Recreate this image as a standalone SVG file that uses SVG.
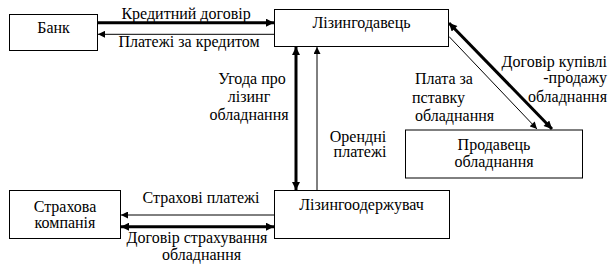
<svg xmlns="http://www.w3.org/2000/svg" width="615" height="272" viewBox="0 0 615 272">
<defs>
<style>
.box{fill:#fff;stroke:#000;stroke-width:1}
text{font-family:'Liberation Serif',serif;font-size:16px;fill:#000}
.c{text-anchor:middle}
.r{text-anchor:end}
.thick{stroke:#000;stroke-width:3;fill:none}
.thin{stroke:#000;stroke-width:1;fill:none}
</style>
<marker id="ah" viewBox="0 0 10 10" refX="10" refY="5" markerWidth="9" markerHeight="8" markerUnits="userSpaceOnUse" orient="auto-start-reverse">
<path d="M0,0 L10,5 L0,10 z" fill="#000"/>
</marker>
<marker id="at" viewBox="0 0 10 10" refX="10" refY="5" markerWidth="8" markerHeight="7" markerUnits="userSpaceOnUse" orient="auto-start-reverse">
<path d="M0,0 L10,5 L0,10 z" fill="#000"/>
</marker>
</defs>
<rect width="615" height="272" fill="#fff"/>
<g id="connectors">
<line class="thick" x1="98" y1="22.7" x2="274" y2="22.7" marker-end="url(#ah)"/>
<line class="thin" x1="274" y1="34.3" x2="98" y2="34.3" marker-end="url(#at)"/>
<line class="thick" x1="296" y1="47" x2="296" y2="190" marker-start="url(#ah)" marker-end="url(#ah)"/>
<line class="thin" x1="317" y1="190" x2="317" y2="47" marker-end="url(#at)"/>
<line class="thick" x1="449" y1="23" x2="552" y2="129" marker-start="url(#ah)" marker-end="url(#ah)"/>
<line class="thin" x1="449" y1="36.5" x2="537" y2="129" marker-end="url(#at)"/>
<line class="thin" x1="274" y1="215" x2="121" y2="215" marker-end="url(#at)"/>
<line class="thick" x1="121" y1="226.7" x2="274" y2="226.7" marker-start="url(#ah)" marker-end="url(#ah)"/>
<text class="c" x="186" y="19">Кредитний договір</text>
<text class="c" x="189" y="47">Платежі за кредитом</text>
<text class="c" x="252" y="84">Угода про</text>
<text class="c" x="249" y="102">лізинг</text>
<text class="c" x="249" y="120">обладнання</text>
<text class="c" x="358" y="141.5">Орендні</text>
<text class="c" x="360" y="157">платежі</text>
<text class="r" x="607" y="66.5">Договір купівлі</text>
<text class="r" x="607" y="83.3">-продажу</text>
<text class="r" x="607" y="101.5">обладнання</text>
<text x="415" y="84">Плата за</text>
<text x="412" y="102.5">пставку</text>
<text x="415" y="120.5">обладнання</text>
<text class="c" x="201" y="203">Страхові платежі</text>
<text class="c" x="197" y="243">Договір страхування</text>
<text class="c" x="201.5" y="260">обладнання</text>
</g>
<g id="bank"><rect class="box" x="9.5" y="14.5" width="88" height="36"/><text class="c" x="53.5" y="33">Банк</text></g>
<g id="lessor"><rect class="box" x="274.5" y="9.5" width="174" height="37"/><text class="c" x="361.5" y="28">Лізингодавець</text></g>
<g id="seller"><rect class="box" x="405.5" y="130" width="177" height="48"/><text class="c" x="494" y="150">Продавець</text><text class="c" x="494" y="166.5">обладнання</text></g>
<g id="lessee"><rect class="box" x="274.5" y="190.5" width="175" height="48"/><text class="c" x="361.5" y="210">Лізингоодержувач</text></g>
<g id="insurer"><rect class="box" x="9.5" y="190.5" width="111" height="48"/><text class="c" x="65" y="211.5">Страхова</text><text class="c" x="65" y="228">компанія</text></g>
</svg>
